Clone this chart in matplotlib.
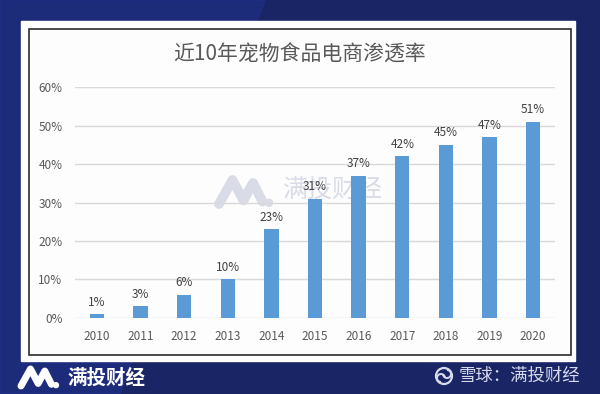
import matplotlib
matplotlib.use("Agg")
import matplotlib.pyplot as plt
from matplotlib.patches import Rectangle, Polygon, Circle, Arc
from matplotlib.ticker import FuncFormatter

plt.rcParams["font.family"] = ["Noto Sans CJK SC", "DejaVu Sans"]

# data
years = ["2010", "2011", "2012", "2013", "2014", "2015",
         "2016", "2017", "2018", "2019", "2020"]
rates = [1, 3, 6, 10, 23, 31, 37, 42, 45, 47, 51]
y_ticks = [0, 10, 20, 30, 40, 50, 60]

title = "近10年宠物食品电商渗透率"
brand = "满投财经"
source = "雪球：满投财经"

W, H = 600, 394
NAVY = "#1a2566"
BAR = "#5b9bd5"
GREY = "#595959"


def logo(ax, x0, y0, w, h, color, lw):
    # stylised "M." mark, drawn in pixel space of the background axes
    xs = [x0, x0 + 0.27 * w, x0 + 0.49 * w, x0 + 0.68 * w, x0 + 0.87 * w]
    ys = [y0 + h, y0, y0 + 0.85 * h, y0 + 0.12 * h, y0 + 0.9 * h]
    ax.plot(xs, ys, color=color, lw=lw, solid_capstyle="round",
            solid_joinstyle="round")
    ax.add_patch(Circle((x0 + w, y0 + 0.95 * h), 0.07 * w, color=color))


fig = plt.figure(figsize=(6, 3.94), dpi=100)

bg = fig.add_axes([0, 0, 1, 1], zorder=0)
bg.set_xlim(0, W)
bg.set_ylim(H, 0)
bg.axis("off")
bg.add_patch(Rectangle((0, 0), W, H, color=NAVY))
bg.add_patch(Polygon([(0, 0), (265, 0), (120, H), (0, H)], color="#20308a", alpha=0.6))
bg.add_patch(Rectangle((21, 21), 554, 340, color="white"))
bg.add_patch(Rectangle((29, 29), 542, 326, facecolor="#fdfdfd",
                       edgecolor="#2b2b2b", lw=1.2))

# watermark
logo(bg, 219, 180, 50, 24, "#d9dbe7", 7)
bg.text(333, 190, brand, color="#d9dbe7", fontsize=18, ha="center", va="center")

# footer
logo(bg, 21, 369, 35, 17, "white", 5)
bg.text(106, 378, brand, color="white", fontsize=14, ha="center", va="center",
        fontweight="bold")
bg.add_patch(Circle((444, 376), 8, fill=False, ec="#d6daea", lw=1.6))
bg.add_patch(Arc((441, 378), 8, 8, theta1=90, theta2=360, ec="#d6daea", lw=1.4))
bg.add_patch(Arc((447, 374), 8, 8, theta1=270, theta2=180, ec="#d6daea", lw=1.4))
bg.text(519, 376, source, color="#d6daea", fontsize=12.5, ha="center", va="center")

ax = fig.add_axes([0.125, 0.193, 0.8, 0.586], zorder=1)
ax.patch.set_alpha(0)
x = range(len(years))
bars = ax.bar(x, rates, width=0.33, color=BAR, zorder=3)
for rect, v in zip(bars, rates):
    ax.annotate(f"{v}%", (rect.get_x() + rect.get_width() / 2, v),
                xytext=(0, 4), textcoords="offset points",
                ha="center", va="bottom", fontsize=8.5, color="#404040")

ax.set_xlim(-0.5, len(years) - 0.5)
ax.set_ylim(0, 60)
ax.set_yticks(y_ticks)
ax.yaxis.set_major_formatter(FuncFormatter(lambda v, _: f"{v:.0f}%"))
ax.set_xticks(list(x))
ax.set_xticklabels(years)
ax.tick_params(axis="both", length=0, colors=GREY, labelsize=8.5)
ax.tick_params(axis="y", pad=9)
ax.tick_params(axis="x", pad=9)
ax.grid(axis="y", color="#d9d9d9", lw=1, zorder=0)
for s in ax.spines.values():
    s.set_visible(False)

fig.text(0.5, 1 - 55 / H, title, ha="center", va="center", fontsize=15, color=GREY)

fig.savefig("out.png", dpi=100)
